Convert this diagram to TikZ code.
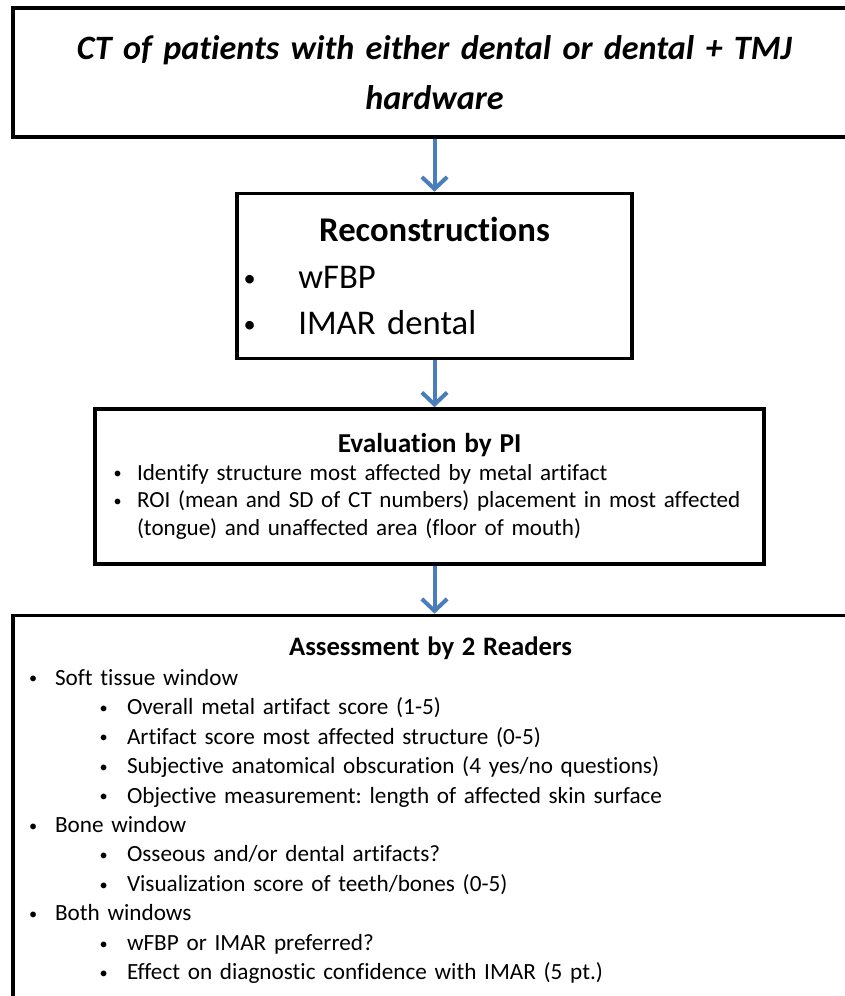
\documentclass[tikz,border=0pt]{standalone}
\usepackage{fontspec}
\usepackage{graphicx}
\setmainfont{Carlito}[Ligatures=NoCommon]
\frenchspacing
\usetikzlibrary{arrows.meta,positioning}
\definecolor{flowblue}{RGB}{74,126,187}
\newcommand{\bitem}[3]{\par\noindent\hspace*{#1}\makebox[#2][l]{\raisebox{0.12ex}{\scalebox{0.7}{\textbullet}}}#3}

\begin{document}
\begin{tikzpicture}[
    x=0.75pt, y=-0.75pt,
    box/.style={rectangle, draw=black, line width=2.6pt, align=left,
                inner xsep=0pt, inner ysep=0pt},
    flow/.style={-{Straight Barb[length=9pt,width=19pt]}, line width=3pt, draw=flowblue}
]
\useasboundingbox (0,0) rectangle (844,996);
\node[box, align=center, text width=626.25pt, minimum height=96.75pt,
      font=\fontsize{25.6}{37.5}\selectfont\bfseries\itshape] (scan) at (430.5,72.5)
     {\hspace*{6pt}CT of patients with either dental or dental + TMJ\\\hspace*{6pt}hardware};
\node[box, text width=296.25pt, minimum height=123.75pt, below=39.75pt of scan, xshift=3pt,
      font=\fontsize{26}{35}\selectfont] (recon)
     {{\centering\bfseries Reconstructions\par}
      \bitem{5pt}{41pt}{wFBP}
      \bitem{5pt}{41pt}{IMAR dental}};
\node[box, text width=501.75pt, minimum height=116.25pt, below=35.25pt of recon, xshift=-3.75pt,
      font=\fontsize{17.3}{20.6}\selectfont] (eval)
     {{\centering\fontsize{20.5}{20.6}\selectfont\bfseries Evaluation by PI\par}
      \bitem{14pt}{17.5pt}{Identify structure most affected by metal artifact}
      \bitem{14pt}{17.5pt}{\parbox[t]{465pt}{ROI (mean and SD of CT numbers) placement in most affected\\(tongue) and unaffected area (floor of mouth)}}};
\node[box, text width=626.25pt, minimum height=292.5pt, below=36pt of eval, xshift=0.75pt,
      font=\fontsize{17.4}{22.1}\selectfont] (assess)
     {{\centering\fontsize{20}{22.1}\selectfont\bfseries Assessment by 2 Readers\par}
      \bitem{12pt}{19.5pt}{Soft tissue window}
      \bitem{65pt}{20.5pt}{Overall metal artifact score (1-5)}
      \bitem{65pt}{20.5pt}{Artifact score most affected structure (0-5)}
      \bitem{65pt}{20.5pt}{Subjective anatomical obscuration (4 yes/no questions)}
      \bitem{65pt}{20.5pt}{Objective measurement: length of affected skin surface}
      \bitem{12pt}{19.5pt}{Bone window}
      \bitem{65pt}{20.5pt}{Osseous and/or dental artifacts?}
      \bitem{65pt}{20.5pt}{Visualization score of teeth/bones (0-5)}
      \bitem{12pt}{19.5pt}{Both windows}
      \bitem{65pt}{20.5pt}{wFBP or IMAR preferred?}
      \bitem{65pt}{20.5pt}{Effect on diagnostic confidence with IMAR (5 pt.)}};
\draw[flow] (recon.north |- scan.south) -- (recon.north);
\draw[flow] (recon.south) -- (recon.south |- eval.north);
\draw[flow] (recon.south |- eval.south) -- (recon.south |- assess.north);
\end{tikzpicture}
\end{document}
